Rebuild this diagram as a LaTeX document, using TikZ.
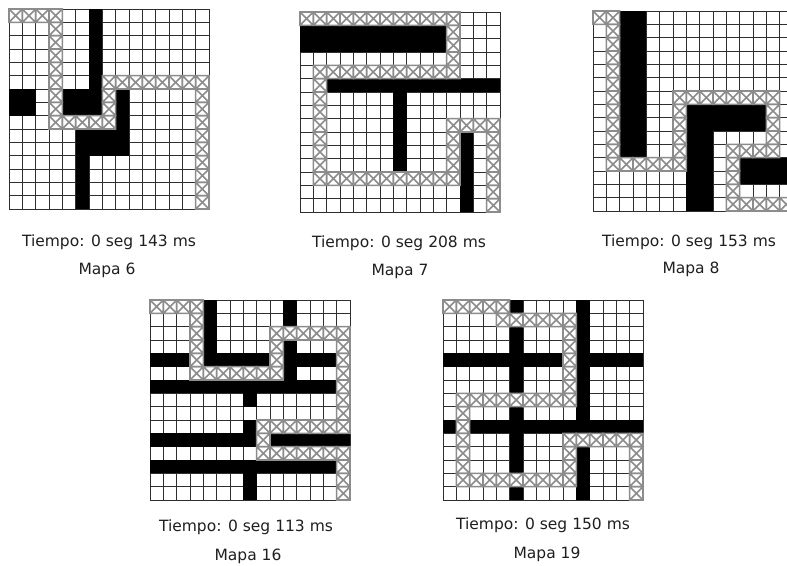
\documentclass[tikz,border=0pt]{standalone}
\usepackage{fontspec}
\setmainfont{DejaVu Sans}
\definecolor{gridcol}{HTML}{2E2E2E}
\definecolor{pathcol}{HTML}{8C8C8C}
\tikzset{
  gridline/.style={draw=gridcol, line width=1pt},
  blackcell/.style={fill=black},
  pathcell/.style={draw=pathcol, line width=1.6pt},
  lbl/.style={inner sep=0pt, font=\fontsize{15.5}{18}\selectfont, text=black!88}
}
\makeatletter
\newcount\cellcol
\def\cellsz{13.3333}
\def\parsecells#1{\global\cellcol=0 \parsecellsi#1\@nil}
\def\parsecellsi#1{\ifx#1\@nil\else\docell#1\global\advance\cellcol by 1 \expandafter\parsecellsi\fi}
\def\docell#1{%
  \ifx#1\curpass
    \pgfmathsetmacro\cx{\ox+\the\cellcol*\cellsz}%
    \pgfmathsetmacro\cy{\oy+\r*\cellsz}%
    \ifx#1B%
      \fill[blackcell] (\cx,\cy) rectangle ++(\cellsz,\cellsz);%
    \else
      \draw[pathcell] (\cx,\cy) rectangle ++(\cellsz,\cellsz)
        (\cx,\cy) -- ++(\cellsz,\cellsz)
        ({\cx+\cellsz},\cy) -- ++(-\cellsz,\cellsz);%
    \fi
  \fi}
\makeatother
\newcommand\drawmap[3]{%
  \def\ox{#1}\def\oy{#2}%
  \fill[white] (#1,#2) rectangle ++(200,200);
  \foreach \i in {0,...,15}{%
    \draw[gridline] ({#1+\i*\cellsz},#2) -- ++(0,200);
    \draw[gridline] (#1,{#2+\i*\cellsz}) -- ++(200,0);
  }
  \let\curpass=B%
  \foreach \rowstr [count=\r from 0] in {#3}{\expandafter\parsecells\expandafter{\rowstr}}%
  \let\curpass=X%
  \foreach \rowstr [count=\r from 0] in {#3}{\expandafter\parsecells\expandafter{\rowstr}}%
}
\begin{document}
\begin{tikzpicture}[x=1pt,y=-1pt]
\useasboundingbox (0,0) rectangle (787,565);
\fill[white] (0,0) rectangle (787,565);
% Mapa 6
\drawmap{9}{9}{XXXX--B--------,---X--B--------,---X--B--------,---X--B--------,---X--B--------,---X--BXXXXXXXX,BB-XBBBXB-----X,BB-XBBBXB-----X,---XXXXXB-----X,-----BBBB-----X,-----BBBB-----X,-----B--------X,-----B--------X,-----B--------X,-----B--------X}
% Mapa 7
\drawmap{300}{12}{XXXXXXXXXXXX---,BBBBBBBBBBBX---,BBBBBBBBBBBX---,-----------X---,-XXXXXXXXXXX---,-XBBBBBBBBBBBBB,-X-----B-------,-X-----B-------,-X-----B---XXXX,-X-----B---XB-X,-X-----B---XB-X,-X-----B---XB-X,-XXXXXXXXXXXB-X,------------B-X,------------B-X}
% Mapa 8
\drawmap{593}{11}{XXBB-----------,-XBB-----------,-XBB-----------,-XBB-----------,-XBB-----------,-XBB-----------,-XBB--XXXXXXXX-,-XBB--XBBBBBBX-,-XBB--XBBBBBBX-,-XBB--XBB----X-,-XBB--XBB-XXXX-,-XXXXXXBB-XBBBB,-------BB-XBBBB,-------BB-X----,-------BB-XXXXX}
% Mapa 16
\drawmap{150}{300}{XXXXB-----B----,---XB-----B----,---XB----XXXXXX,---XB----XB---X,BBBXBBBBBXBBBBX,---XXXXXXXB---X,BBBBBBBBBBBBBBX,-------B------X,--------------X,-------BXXXXXXX,BBBBBBBBXBBBBBB,--------XXXXXXX,BBBBBBBBBBBBBBX,-------B------X,-------B------X}
% Mapa 19
\drawmap{443}{300}{XXXXXB----B----,----XXXXXXB----,-----B---XB----,-----B---XB----,BBBBBBBBBXBBBBB,-----B---XB----,-----B---XB----,-XXXXXXXXXB----,-X---B----B----,BXBBBBBBBBBBBBB,-X---B---XXXXXX,-X---B---XB---X,-X---B---XB---X,-XXXXXXXXXB---X,-----B----B---X}
% labels
\node[lbl] (t6) at (109,242) {Tiempo: 0 seg 143 ms};
\node[lbl] (m6) at (107,270) {Mapa 6};
\node[lbl] (t7) at (399,243) {Tiempo: 0 seg 208 ms};
\node[lbl] (m7) at (400,271) {Mapa 7};
\node[lbl] (t8) at (689,242) {Tiempo: 0 seg 153 ms};
\node[lbl] (m8) at (691,269) {Mapa 8};
\node[lbl] (t16) at (246,527) {Tiempo: 0 seg 113 ms};
\node[lbl] (m16) at (248,556) {Mapa 16};
\node[lbl] (t19) at (543,525) {Tiempo: 0 seg 150 ms};
\node[lbl] (m19) at (547,554) {Mapa 19};
\end{tikzpicture}
\end{document}
